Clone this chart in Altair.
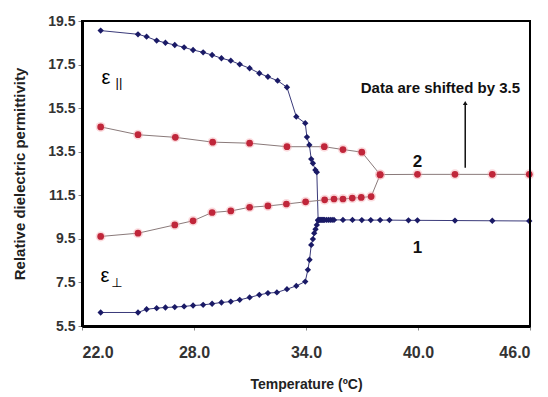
import altair as alt
import pandas as pd

# ---- data ----
par_T = [23.0, 25.0, 25.46, 26.0, 26.47, 26.97, 27.47, 27.95, 28.49, 28.97, 29.47, 29.97,
         30.45, 30.98, 31.5, 31.96, 32.48, 32.98, 33.48, 33.96, 34.05, 34.18, 34.28, 34.37,
         34.5, 34.58, 34.65]
par_v = [19.06, 18.89, 18.78, 18.6, 18.5, 18.4, 18.29, 18.17, 18.06, 17.94, 17.79, 17.68,
         17.51, 17.33, 17.1, 16.94, 16.76, 16.46, 15.11, 14.81, 14.17, 13.81, 13.16, 12.97,
         12.66, 12.56, 10.37]

perp_T = [23.0, 25.0, 25.46, 26.0, 26.47, 26.97, 27.47, 27.95, 28.49, 28.97, 29.47, 29.97,
          30.45, 30.98, 31.5, 31.96, 32.44, 32.98, 33.48, 33.96, 34.1, 34.19, 34.28, 34.37,
          34.44, 34.51, 34.58, 34.65, 34.7, 34.75, 34.8, 34.85, 34.9, 34.95, 35.0, 35.1,
          35.2, 35.3, 35.4, 35.5, 35.98, 36.49, 36.99, 37.47, 37.97, 38.47, 39.49, 39.97,
          41.98, 43.98, 45.96]
perp_v = [6.12, 6.12, 6.27, 6.32, 6.35, 6.37, 6.4, 6.44, 6.47, 6.52, 6.58, 6.62,
          6.7, 6.81, 6.93, 7.01, 7.04, 7.19, 7.34, 7.54, 8.08, 8.54, 9.22, 9.49,
          9.76, 9.94, 10.14, 10.34, 10.37, 10.37, 10.37, 10.37, 10.37, 10.37, 10.37, 10.37,
          10.37, 10.37, 10.37, 10.37, 10.37, 10.37, 10.36, 10.36, 10.36, 10.36, 10.35, 10.35,
          10.34, 10.33, 10.32]

red_up_T = [23.0, 25.0, 27.0, 29.0, 30.98, 32.98, 34.98, 35.98, 36.99, 37.97, 39.97, 41.98, 43.98, 45.96]
red_up_v = [14.64, 14.28, 14.16, 13.94, 13.89, 13.73, 13.73, 13.6, 13.48, 12.45, 12.46, 12.46, 12.46, 12.46]

red_lo_T = [23.0, 25.0, 26.97, 27.95, 28.97, 29.97, 30.98, 31.96, 32.95, 33.98, 35.0, 35.5,
            35.98, 36.48, 36.96, 37.49, 37.97]
red_lo_v = [9.61, 9.76, 10.14, 10.33, 10.71, 10.78, 10.95, 11.01, 11.1, 11.2, 11.29, 11.33,
            11.33, 11.37, 11.4, 11.44, 12.44]

x_ticks = [22.0, 28.0, 34.0, 40.0, 46.0]
y_ticks = [5.5, 7.5, 9.5, 11.5, 13.5, 15.5, 17.5, 19.5]

# annotations
ann_text = ["ε", "||", "ε", "⊥", "Data are shifted by 3.5", "2", "1"]
ann_T = [23.28, 23.98, 23.23, 23.87, 41.2, 39.97, 39.97]
ann_v = [16.89, 16.66, 7.8, 7.48, 16.43, 13.03, 9.09]
ann_size = [20, 13, 20, 13, 15, 17, 17]
ann_bold = [False, False, False, False, True, True, True]

arrow_T = [42.53]
arrow_from = [12.76]
arrow_to = [15.74]

# ---- build tables ----
blue = pd.concat([
    pd.DataFrame({"T": par_T, "v": par_v, "s": "par", "o": range(len(par_T))}),
    pd.DataFrame({"T": perp_T, "v": perp_v, "s": "perp", "o": range(len(perp_T))}),
])
red = pd.concat([
    pd.DataFrame({"T": red_up_T, "v": red_up_v, "s": "up", "o": range(len(red_up_T))}),
    pd.DataFrame({"T": red_lo_T, "v": red_lo_v, "s": "lo", "o": range(len(red_lo_T))}),
])
ann = pd.DataFrame({"text": ann_text, "T": ann_T, "v": ann_v,
                    "size": ann_size, "bold": ann_bold})
arrow = pd.DataFrame({"T": arrow_T, "v": arrow_from, "v2": arrow_to})

font = "Liberation Sans Narrow, Liberation Sans, Arial"

xs = alt.Scale(domain=[22, 46], nice=False, zero=False)
ys = alt.Scale(domain=[5.5, 19.5], nice=False, zero=False)
X = alt.X("T:Q", scale=xs, axis=alt.Axis(
    values=x_ticks, format=".1f", title="Temperature (ºC)", grid=False,
    domainColor="black", domainWidth=3, tickColor="#888", tickSize=4,
    labelFont=font, labelFontSize=16, labelFontWeight="bold", labelColor="#333",
    labelPadding=14, titleFont=font, titleFontSize=14, titleFontWeight="bold",
    titleColor="#222", titlePadding=17))
Y = alt.Y("v:Q", scale=ys, axis=alt.Axis(
    values=y_ticks, format=".1f", title="Relative dielectric permittivity", grid=False,
    domainColor="black", domainWidth=3, tickColor="#888", tickSize=4,
    labelFont=font, labelFontSize=14, labelFontWeight="bold", labelColor="#333",
    labelPadding=3, titleFont="Liberation Sans, Arial", titleFontSize=15,
    titleFontWeight="bold", titleColor="#222", titlePadding=20))

frame = alt.Chart(ann).mark_rect(fill=None, stroke="black", strokeWidth=2).encode(
    x=alt.value(0), x2=alt.value(448), y=alt.value(0), y2=alt.value(305))

blue_line = alt.Chart(blue).mark_line(color="#3a3a7a", strokeWidth=1).encode(
    x=X, y=Y, detail="s:N", order="o:Q")
blue_pts = alt.Chart(blue).mark_point(shape="diamond", filled=True, color="#1a1a66",
                                       size=40, opacity=1).encode(x="T:Q", y="v:Q")
red_line = alt.Chart(red).mark_line(color="#8a7a7a", strokeWidth=1).encode(
    x="T:Q", y="v:Q", detail="s:N", order="o:Q")
red_halo = alt.Chart(red).mark_point(shape="circle", filled=True, color="#f5a3ab",
                                      size=100, opacity=0.4).encode(x="T:Q", y="v:Q")
red_pts = alt.Chart(red).mark_point(shape="circle", filled=True, color="#c0263a",
                                     size=45, opacity=1).encode(x="T:Q", y="v:Q")

arrow_rule = alt.Chart(arrow).mark_rule(color="#111", strokeWidth=1.5).encode(
    x="T:Q", y="v:Q", y2="v2:Q")
arrow_head = alt.Chart(arrow).mark_point(shape="triangle-up", filled=True, color="#111",
                                          size=22, opacity=1).encode(x="T:Q", y="v2:Q")

texts_normal = alt.Chart(ann).transform_filter("!datum.bold").mark_text(
    font="Liberation Sans, DejaVu Sans", color="#000", baseline="middle").encode(
    x="T:Q", y="v:Q", text="text:N",
    size=alt.Size("size:Q", scale=None, legend=None))
texts_bold = alt.Chart(ann).transform_filter("datum.bold").mark_text(
    font=font, color="#111", baseline="middle", fontWeight="bold").encode(
    x="T:Q", y="v:Q", text="text:N",
    size=alt.Size("size:Q", scale=None, legend=None))

chart = alt.layer(blue_line, red_line, red_halo, red_pts, blue_pts,
                  arrow_rule, arrow_head, texts_normal, texts_bold, frame).properties(
    width=448, height=305,
    background="white",
    autosize=alt.AutoSizeParams(type="none"),
    padding={"left": 74, "top": 13, "right": 10, "bottom": 71},
).configure_view(stroke="black", strokeWidth=2)

chart.save("out.html", embed_options={"renderer": "svg", "actions": False})
